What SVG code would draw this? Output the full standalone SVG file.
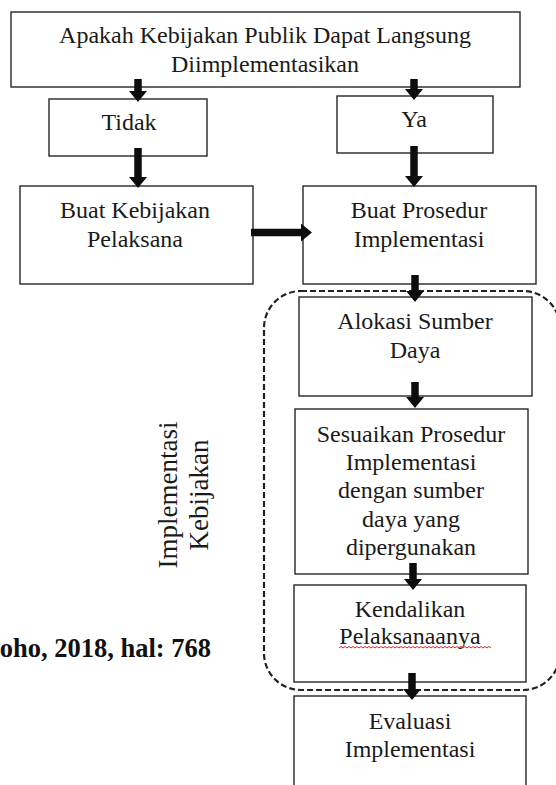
<svg xmlns="http://www.w3.org/2000/svg" width="556" height="785" viewBox="0 0 556 785">
  <style>
    .box { fill: #ffffff; stroke: #262626; stroke-width: 1.4; }
    .nodetext { font-family: "Liberation Serif", "Times New Roman", serif; font-size: 24px; fill: #1a1a1a; text-anchor: middle; }
    .side { font-family: "Liberation Serif", "Times New Roman", serif; font-size: 27px; fill: #1a1a1a; text-anchor: middle; }
    .cite { font-family: "Liberation Serif", "Times New Roman", serif; font-size: 26.5px; font-weight: bold; fill: #111111; text-anchor: end; }
    .shaft { stroke: #0d0d0d; stroke-width: 7.5; fill: none; marker-end: url(#head); }
    .frame { fill: none; stroke: #222222; stroke-width: 2.2; stroke-dasharray: 6 3; }
    .squiggle { fill: none; stroke: #e02424; stroke-width: 1; }
  </style>
  <defs>
    <marker id="head" markerUnits="userSpaceOnUse" markerWidth="12" markerHeight="18" refX="0" refY="9" orient="auto">
      <path d="M0,0 L11,9 L0,18 Z" fill="#0d0d0d"/>
    </marker>
  </defs>

  <rect width="556" height="785" fill="#ffffff"/>

  <!-- Side caption and source reference -->
  <g id="caption">
    <text class="side" transform="translate(177,495) rotate(-90)">Implementasi</text>
    <text class="side" transform="translate(208,495) rotate(-90)">Kebijakan</text>
  </g>
  <text class="cite" x="211" y="657">oho, 2018, hal: 768</text>

  <g id="n-question">
    <rect class="box" x="11" y="12" width="509" height="75"/>
    <text class="nodetext" x="265" y="43">Apakah Kebijakan Publik Dapat Langsung</text>
    <text class="nodetext" x="265" y="72">Diimplementasikan</text>
  </g>

  <g id="n-tidak">
    <rect class="box" x="49" y="99" width="158" height="57"/>
    <text class="nodetext" x="129" y="130">Tidak</text>
  </g>

  <g id="n-ya">
    <rect class="box" x="337" y="96" width="156" height="57"/>
    <text class="nodetext" x="414" y="127">Ya</text>
  </g>

  <g id="n-kebijakan-pelaksana">
    <rect class="box" x="20" y="186" width="233" height="98"/>
    <text class="nodetext" x="135" y="218">Buat Kebijakan</text>
    <text class="nodetext" x="135" y="247">Pelaksana</text>
  </g>

  <g id="n-prosedur">
    <rect class="box" x="303" y="186" width="233" height="98"/>
    <text class="nodetext" x="419" y="218">Buat Prosedur</text>
    <text class="nodetext" x="419" y="247">Implementasi</text>
  </g>

  <!-- Dashed grouping around the implementation steps -->
  <rect id="implementation-frame" class="frame" x="264" y="291" width="296" height="399" rx="37" ry="37"/>

  <g id="n-alokasi">
    <rect class="box" x="299" y="297" width="233" height="99"/>
    <text class="nodetext" x="415" y="329">Alokasi Sumber</text>
    <text class="nodetext" x="415" y="358">Daya</text>
  </g>

  <g id="n-sesuaikan">
    <rect class="box" x="295" y="409" width="233" height="165"/>
    <text class="nodetext" x="411" y="442">Sesuaikan Prosedur</text>
    <text class="nodetext" x="411" y="470">Implementasi</text>
    <text class="nodetext" x="411" y="498">dengan sumber</text>
    <text class="nodetext" x="411" y="527">daya yang</text>
    <text class="nodetext" x="411" y="555">dipergunakan</text>
  </g>

  <g id="n-kendalikan">
    <rect class="box" x="294" y="585" width="232" height="97"/>
    <text class="nodetext" x="410" y="617">Kendalikan</text>
    <text class="nodetext" x="410" y="644">Pelaksanaanya</text>
    <!-- spell-check squiggle under the second line -->
    <path class="squiggle" d="M339,648 l2,-1.5 l2,1.5 l2,-1.5 l2,1.5 l2,-1.5 l2,1.5 l2,-1.5 l2,1.5 l2,-1.5 l2,1.5 l2,-1.5 l2,1.5 l2,-1.5 l2,1.5 l2,-1.5 l2,1.5 l2,-1.5 l2,1.5 l2,-1.5 l2,1.5 l2,-1.5 l2,1.5 l2,-1.5 l2,1.5 l2,-1.5 l2,1.5 l2,-1.5 l2,1.5 l2,-1.5 l2,1.5 l2,-1.5 l2,1.5 l2,-1.5 l2,1.5 l2,-1.5 l2,1.5 l2,-1.5 l2,1.5 l2,-1.5 l2,1.5 l2,-1.5 l2,1.5 l2,-1.5 l2,1.5 l2,-1.5 l2,1.5 l2,-1.5 l2,1.5 l2,-1.5 l2,1.5 l2,-1.5 l2,1.5 l2,-1.5 l2,1.5 l2,-1.5 l2,1.5 l2,-1.5 l2,1.5 l2,-1.5 l2,1.5 l2,-1.5 l2,1.5 l2,-1.5 l2,1.5 l2,-1.5 l2,1.5 l2,-1.5 l2,1.5 l2,-1.5 l2,1.5 l2,-1.5 l2,1.5 l2,-1.5 l2,1.5 l2,-1.5 l2,1.5"/>
  </g>

  <g id="n-evaluasi">
    <rect class="box" x="294" y="696" width="232" height="100"/>
    <text class="nodetext" x="410" y="729">Evaluasi</text>
    <text class="nodetext" x="410" y="757">Implementasi</text>
  </g>

  <g id="connectors">
    <line class="shaft" x1="138" y1="79" x2="138" y2="91"/>
    <line class="shaft" x1="414" y1="79" x2="414" y2="89"/>
    <line class="shaft" x1="138" y1="148" x2="138" y2="177"/>
    <line class="shaft" x1="414" y1="146" x2="414" y2="176"/>
    <line class="shaft" x1="251" y1="232.5" x2="301" y2="232.5"/>
    <line class="shaft" x1="415" y1="275" x2="415" y2="291"/>
    <line class="shaft" x1="415" y1="382" x2="415" y2="397"/>
    <line class="shaft" x1="413" y1="563" x2="413" y2="579"/>
    <line class="shaft" x1="412" y1="673" x2="412" y2="689"/>
  </g>
</svg>
